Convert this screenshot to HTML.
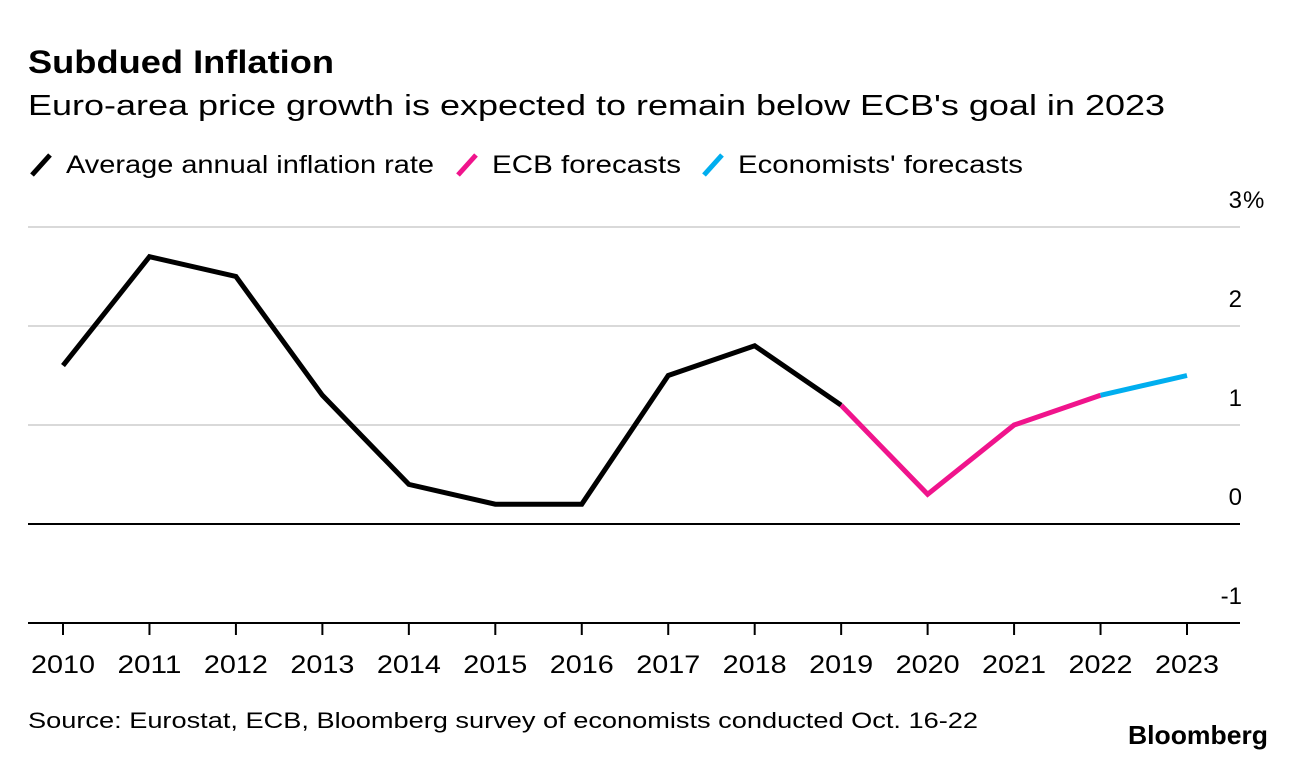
<!DOCTYPE html>
<html><head><meta charset="utf-8"><style>
body{margin:0;background:#fff;font-family:"Liberation Sans",sans-serif;}
svg{display:block}
</style></head><body>
<svg width="1296" height="760" id="c">
<text x="28" y="73" font-size="32" font-weight="bold" fill="#000" textLength="306" lengthAdjust="spacingAndGlyphs">Subdued Inflation</text>
<text x="28" y="115" font-size="29" fill="#000" textLength="1137" lengthAdjust="spacingAndGlyphs">Euro-area price growth is expected to remain below ECB's goal in 2023</text>
<g font-size="25">
<line x1="32" y1="175" x2="50" y2="155" stroke="#000" stroke-width="5"/>
<text x="66" y="173" textLength="368" lengthAdjust="spacingAndGlyphs">Average annual inflation rate</text>
<line x1="458" y1="175" x2="476" y2="155" stroke="#f0148c" stroke-width="5"/>
<text x="492" y="173" textLength="189" lengthAdjust="spacingAndGlyphs">ECB forecasts</text>
<line x1="704" y1="175" x2="722" y2="155" stroke="#00aeef" stroke-width="5"/>
<text x="738" y="173" textLength="285" lengthAdjust="spacingAndGlyphs">Economists' forecasts</text>
</g>
<g id="grid"></g><g id="marks"></g>
<text x="28" y="728" font-size="22" textLength="950" lengthAdjust="spacingAndGlyphs">Source: Eurostat, ECB, Bloomberg survey of economists conducted Oct. 16-22</text>
<text x="1128" y="744" font-size="26" font-weight="bold" textLength="140" lengthAdjust="spacingAndGlyphs">Bloomberg</text>
</svg>
<script>
const years=[2010,2011,2012,2013,2014,2015,2016,2017,2018,2019,2020,2021,2022,2023];
const actual=[1.6,2.7,2.5,1.3,0.4,0.2,0.2,1.5,1.8,1.2];
const ecb=[1.2,0.3,1.0,1.3];
const economists=[1.3,1.5];
const yTicks=[3,2,1,0,-1];
const yTickLabels=["3","2","1","0","-1"];
const NS="http://www.w3.org/2000/svg";
const x=i=>63+i*(1187-63)/13;
const y=v=>524-v*99;
const grid=document.getElementById('grid'),marks=document.getElementById('marks');
function mk(tag,attrs,parent){const e=document.createElementNS(NS,tag);for(const k in attrs)e.setAttribute(k,attrs[k]);parent.appendChild(e);return e;}
yTicks.forEach((v,i)=>{
 const dark=(v===0||v===-1);
 const l=mk('line',{x1:28,x2:1240,y1:y(v),y2:y(v),stroke:dark?'#000':'#d9d9d9','stroke-width':2},grid);
 
 
 const t=mk('text',{x:1242,y:y(v)-19,'font-size':24,'text-anchor':'end'},grid);
 t.textContent=yTickLabels[i];
 
 
 if(i===0){
  const p=mk('text',{x:1243,y:y(v)-19,'font-size':24},grid);
  p.textContent='%';
  
  
 }
});
years.forEach((yr,i)=>{
 const l=mk('line',{x1:x(i),x2:x(i),y1:y(-1),y2:y(-1)+12,stroke:'#000','stroke-width':2},grid);
 
 
 const t=mk('text',{x:x(i)-32,y:673,'font-size':25,textLength:64,lengthAdjust:'spacingAndGlyphs'},grid);
 t.textContent=yr;
 
 
});
function line(vals,start,color,name){
 const d=vals.map((v,k)=>(k?'L':'M')+x(start+k)+' '+y(v)).join(' ');
 const p=mk('path',{d:d,fill:'none',stroke:color,'stroke-width':5,'stroke-linejoin':'miter'},marks);
 
 
}
line(actual,0,'#000','line-average-inflation');
line(ecb,actual.length-1,'#f0148c','line-ecb-forecasts');
line(economists,actual.length-1+ecb.length-1,'#00aeef','line-economists-forecasts');
</script>
</body></html>
